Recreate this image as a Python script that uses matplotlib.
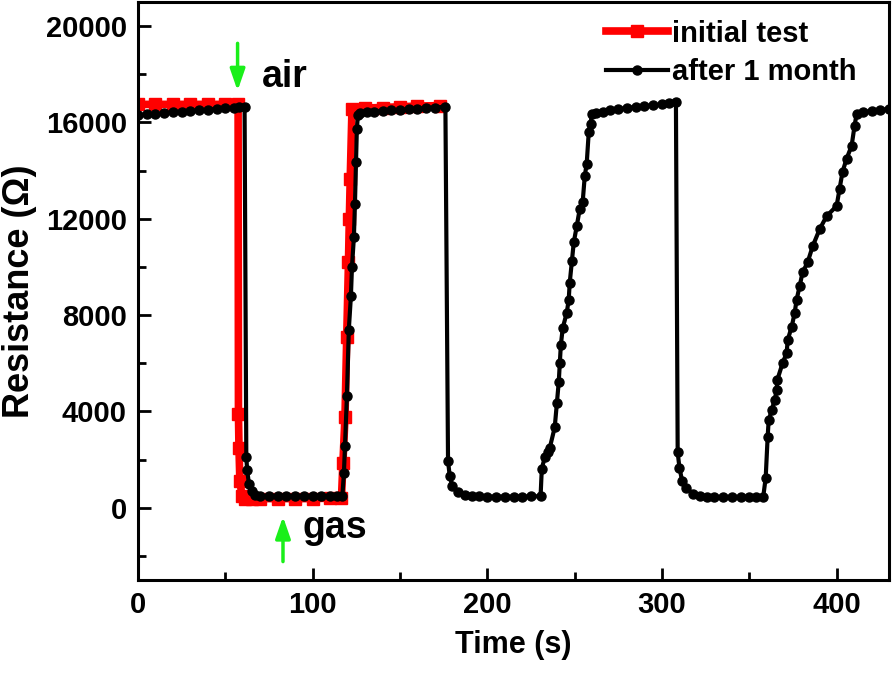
import matplotlib
matplotlib.use("Agg")
import matplotlib.pyplot as plt
from matplotlib.ticker import MultipleLocator

plt.rcParams["font.family"] = ["Liberation Sans", "DejaVu Sans"]
plt.rcParams["font.weight"] = "bold"

# initial test (red)
initial_t = [0, 10, 20, 30, 40, 50, 57.3, 57.5, 57.8, 58.3, 59.5, 61, 65, 70, 80, 90,
             100, 110, 116.5, 117.3, 118.5, 119.5, 120.5, 121, 121.5, 122.5, 130, 140,
             150, 160, 173]
initial_r = [16750, 16750, 16750, 16750, 16750, 16750, 16750, 3900, 2500, 1130, 500,
             380, 380, 380, 380, 380, 380, 400, 420, 1840, 3760, 7100, 10190, 12000,
             13650, 16550, 16600, 16620, 16650, 16680, 16700]

# after 1 month (black)
month_t = [0, 5, 10, 15, 20, 25, 30, 35, 40, 45, 50, 55, 58, 61,
           62, 62.5, 63.5, 65, 67, 70, 75, 80, 85, 90, 95, 100, 105, 110, 114, 117,
           117.9, 118.5, 119.6, 120.7, 121.9, 122.5, 123.6, 124.2, 124.8, 125.3, 125.9,
           127, 131, 135, 140, 145, 150, 155, 160, 165, 170, 176,
           177.5, 178.5, 180, 183, 187, 191, 195, 200, 205, 210, 215, 220, 225, 230.5,
           231.2, 232.9, 235, 235.8, 238.6, 239.8, 240.9, 241.5, 242.1, 243.2, 245.5,
           246.6, 247.2, 248.4, 249.5, 251.2, 252.9, 254.6, 255.8, 256.9, 258.1, 259.2,
           259.8, 262, 266, 270, 275, 280, 285, 290, 295, 300, 304, 308,
           309, 310, 311.5, 314, 318, 322, 326, 330, 335, 340, 345, 350, 354, 358,
           359.4, 360.5, 361.1, 362.8, 364.5, 365.7, 366, 369.1, 371.4, 372, 374.3,
           376, 377.1, 378.8, 380.5, 383.4, 386.3, 390.3, 394.3, 400, 401.7, 403.4,
           405.7, 408.6, 410.3, 411.5, 415, 420, 425, 430]
month_r = [16300, 16330, 16350, 16380, 16420, 16450, 16480, 16500, 16530, 16560, 16590,
           16610, 16630, 16650,
           2100, 1550, 1000, 700, 550, 480, 470, 470, 470, 470, 470, 470, 470, 470, 470, 480,
           1460, 2550, 4630, 7400, 8800, 10000, 11230, 12600, 14360, 15740, 16300,
           16400, 16420, 16450, 16480, 16500, 16520, 16550, 16570, 16600, 16620, 16650,
           1950, 1300, 900, 650, 520, 480, 470, 460, 460, 460, 460, 460, 470, 480,
           1630, 2090, 2300, 2500, 3340, 4340, 5220, 6010, 6760, 7470, 8100,
           8640, 9350, 10230, 11020, 11690, 12400, 12690, 13780, 14280, 15620, 15950,
           16350, 16400, 16450, 16500, 16550, 16600, 16640, 16680, 16710, 16750, 16790, 16830,
           2300, 1670, 1130, 800, 580, 470, 455, 450, 450, 450, 450, 450, 455, 460,
           1250, 2920, 3630, 4050, 4470, 4890, 5300, 6010, 6430, 6970, 7520,
           8100, 8640, 9190, 9770, 10190, 10860, 11570, 12110, 12530, 13240, 13950,
           14490, 15030, 15870, 16370, 16420, 16480, 16520, 16550]

fig = plt.figure(figsize=(8.94, 6.76), dpi=100)
ax = fig.add_axes([0.1544, 0.142, 0.84, 0.855])

ax.plot(initial_t, initial_r, color="#ff0000", lw=5.5, marker="s", ms=8,
        label="initial test", zorder=2)
ax.plot(month_t, month_r, color="black", lw=3, marker="o", ms=6.5,
        label="after 1 month", zorder=3)

ax.set_xlim(0, 430)
ax.set_ylim(-3000, 21000)
ax.xaxis.set_major_locator(MultipleLocator(100))
ax.xaxis.set_minor_locator(MultipleLocator(50))
ax.yaxis.set_major_locator(MultipleLocator(4000))
ax.yaxis.set_minor_locator(MultipleLocator(2000))
ax.tick_params(which="both", direction="in", width=2, labelsize=21, pad=8)
ax.tick_params(which="major", length=9)
ax.tick_params(which="minor", length=6)
for sp in ax.spines.values():
    sp.set_linewidth(2.2)

ax.set_xlabel("Time (s)", fontsize=22, fontweight="bold", labelpad=8)
ax.set_ylabel("Resistance (Ω)", fontsize=26, fontweight="bold", labelpad=6)

green = "#1aef1a"
arrow_style = dict(arrowstyle="-|>,head_length=1.3,head_width=0.45",
                   color=green, lw=2.5)
ax.annotate("", xy=(57, 17200), xytext=(57, 19400), arrowprops=arrow_style)
ax.text(71, 17900, "air", fontsize=27, fontweight="bold", va="center", ha="left")
ax.annotate("", xy=(83, -250), xytext=(83, -2350), arrowprops=arrow_style)
ax.text(94, -850, "gas", fontsize=27, fontweight="bold", va="center", ha="left")

ax.legend(loc="upper right", frameon=False, fontsize=21, handlelength=2.1,
          handletextpad=0.15, borderaxespad=0.2, labelspacing=0.35,
          bbox_to_anchor=(0.98, 1.0))

fig.savefig("out.png", dpi=100)
